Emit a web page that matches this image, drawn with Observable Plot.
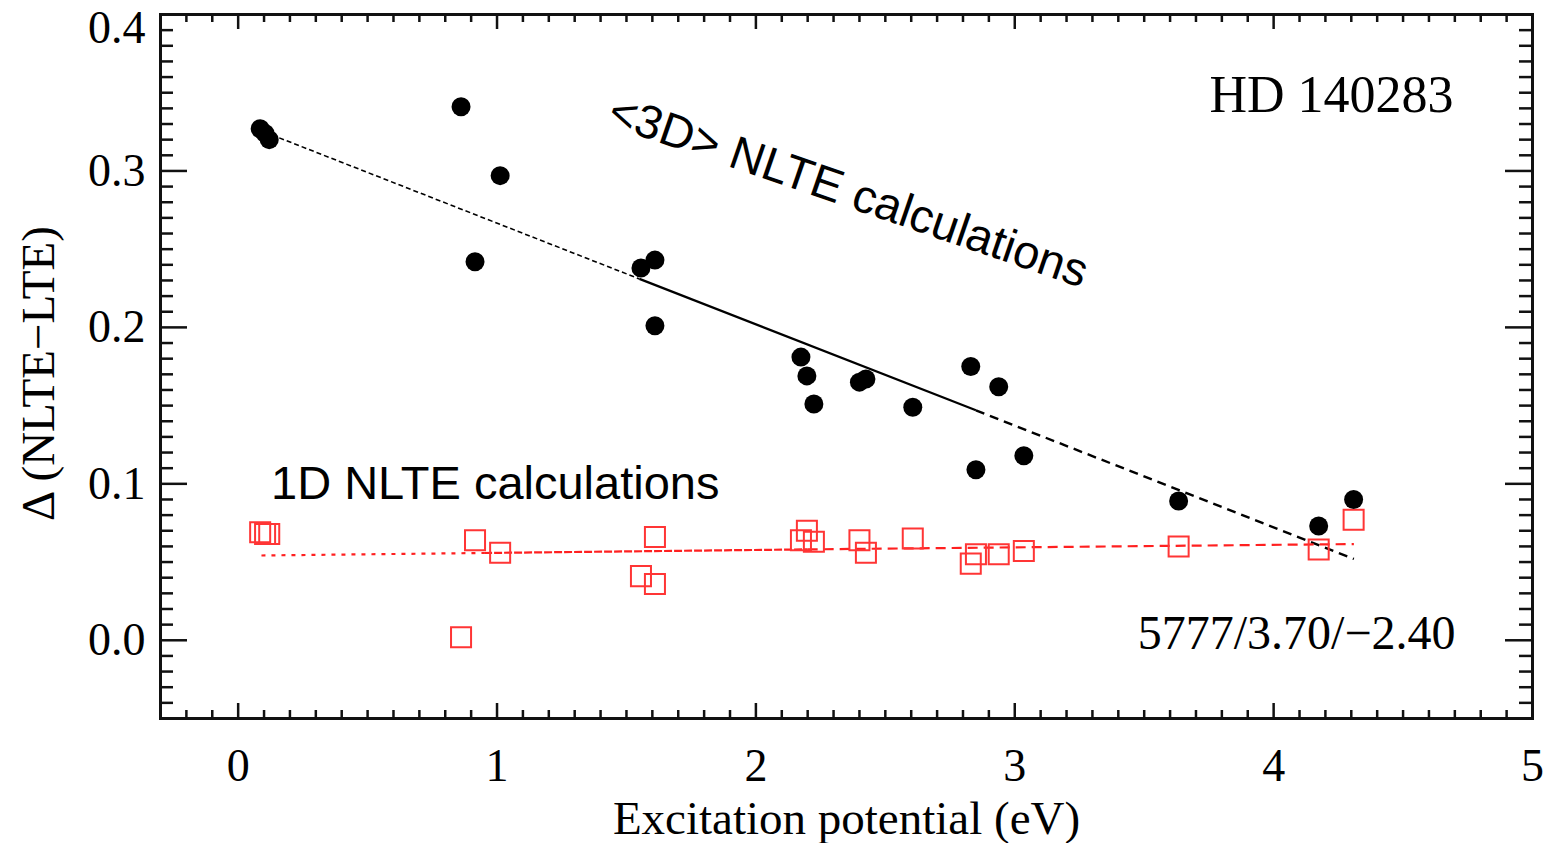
<!DOCTYPE html>
<html>
<head>
<meta charset="utf-8">
<script src="https://cdn.jsdelivr.net/npm/d3@7"></script>
<script src="https://cdn.jsdelivr.net/npm/@observablehq/plot@0.6"></script>
<style>
  html, body { margin: 0; padding: 0; background: #fff; }
</style>
</head>
<body>
<div id="chart"></div>
<script>
// Excitation potential of each line (eV)
const excitation = [0.085, 0.104, 0.12, 0.861, 1.012, 0.915, 1.556, 1.61, 1.61, 2.174, 2.197, 2.224, 2.40, 2.425, 2.606, 2.83, 2.938, 2.85, 3.035, 3.633, 4.174, 4.309];
// <3D> NLTE corrections
const delta3D = [0.327, 0.324, 0.320, 0.341, 0.297, 0.242, 0.238, 0.243, 0.201, 0.181, 0.169, 0.151, 0.165, 0.167, 0.149, 0.175, 0.162, 0.109, 0.118, 0.089, 0.073, 0.090];
// 1D NLTE corrections
const delta1D = [0.069, 0.068, 0.068, 0.002, 0.056, 0.064, 0.041, 0.036, 0.066, 0.064, 0.070, 0.063, 0.064, 0.056, 0.065, 0.049, 0.055, 0.055, 0.057, 0.060, 0.058, 0.077];

// Linear fits (segments with different dash styles), in data units
const fit3D = [
  {x1: 0.13, x2: 1.55, y1: 0.323, y2: 0.231},
  {x1: 1.55, x2: 2.85, y1: 0.231, y2: 0.147},
  {x1: 2.85, x2: 4.31, y1: 0.147, y2: 0.052}
];
const fit1D = [
  {x1: 0.09, x2: 0.95, y1: 0.0542, y2: 0.0558},
  {x1: 0.95, x2: 2.20, y1: 0.0558, y2: 0.0581},
  {x1: 2.20, x2: 4.31, y1: 0.0581, y2: 0.0615}
];
const dash3D = ["5,3", null, "9,6"];
const width3D = [1.6, 2.2, 2.4];
const dash1D = ["4,6", "8,2", "10,6"];

// Axis ticks and labels
const xMajor = [0, 1, 2, 3, 4, 5];
const yMajor = [0.0, 0.1, 0.2, 0.3, 0.4];
const xMinor = d3.range(-2, 50).map(i => i / 10).filter(v => Math.abs(v - Math.round(v)) > 1e-9);
const yMinor = d3.range(-4, 40).map(i => i / 100).filter(v => Math.abs(v * 10 - Math.round(v * 10)) > 1e-9);

// Annotations
const annotations = [
  {x: 1.419, y: 0.330, text: "<3D> NLTE calculations", rotate: 19},
  {x: 0.127, y: 0.0906, text: "1D NLTE calculations", rotate: 0}
];

const serif = "'Liberation Serif', 'Times New Roman', serif";
const sans = "'Liberation Sans', Arial, sans-serif";

const W = 1550, H = 843;
const mL = 160, mR = 18, mT = 14, mB = 125;
const innerW = W - mL - mR, innerH = H - mT - mB;

const points = excitation.map((x, i) => ({x, d3: delta3D[i], d1: delta1D[i]}));

const fitMarks = [];
fit3D.forEach((seg, i) => {
  fitMarks.push(Plot.link([seg], {x1: "x1", x2: "x2", y1: "y1", y2: "y2", stroke: "#000", strokeWidth: width3D[i], strokeDasharray: dash3D[i] || undefined}));
});
fit1D.forEach((seg, i) => {
  fitMarks.push(Plot.link([seg], {x1: "x1", x2: "x2", y1: "y1", y2: "y2", stroke: "#ff2020", strokeWidth: 2.2, strokeDasharray: dash1D[i]}));
});

const chart = Plot.plot({
  width: W,
  height: H,
  marginLeft: mL,
  marginRight: mR,
  marginTop: mT,
  marginBottom: mB,
  x: {domain: [-0.3, 5.0], axis: null},
  y: {domain: [-0.05, 0.4], axis: null},
  style: {fontFamily: serif, fontSize: "46px", background: "#fff", color: "#000"},
  marks: [
    // ticks: bottom
    Plot.tickX(xMinor, {x: d => d, insetTop: innerH - 8, stroke: "#111", strokeWidth: 2.5}),
    Plot.tickX(xMajor, {x: d => d, insetTop: innerH - 15, stroke: "#111", strokeWidth: 2.5}),
    // ticks: top
    Plot.tickX(xMinor, {x: d => d, insetBottom: innerH - 8, stroke: "#111", strokeWidth: 2.5}),
    Plot.tickX(xMajor, {x: d => d, insetBottom: innerH - 15, stroke: "#111", strokeWidth: 2.5}),
    // ticks: left
    Plot.tickY(yMinor, {y: d => d, insetRight: innerW - 13, stroke: "#111", strokeWidth: 2.5}),
    Plot.tickY(yMajor, {y: d => d, insetRight: innerW - 27, stroke: "#111", strokeWidth: 2.5}),
    // ticks: right
    Plot.tickY(yMinor, {y: d => d, insetLeft: innerW - 13, stroke: "#111", strokeWidth: 2.5}),
    Plot.tickY(yMajor, {y: d => d, insetLeft: innerW - 27, stroke: "#111", strokeWidth: 2.5}),
    Plot.frame({stroke: "#111", strokeWidth: 3}),

    // tick labels
    Plot.text(xMajor, {x: d => d, frameAnchor: "bottom", dy: 62, lineAnchor: "bottom", text: d => String(d), fontSize: 46, fontFamily: serif, fill: "#000"}),
    Plot.text(yMajor.filter(d => d < 0.35), {y: d => d, frameAnchor: "left", dx: -15, textAnchor: "end", lineAnchor: "middle", text: d => d.toFixed(1), fontSize: 46, fontFamily: serif, fill: "#000"}),
    Plot.text(yMajor.filter(d => d > 0.35), {y: d => d, frameAnchor: "left", dx: -15, dy: 14, textAnchor: "end", lineAnchor: "middle", text: d => d.toFixed(1), fontSize: 46, fontFamily: serif, fill: "#000"}),

    // axis titles
    Plot.text(["Excitation potential (eV)"], {frameAnchor: "bottom", dy: 115, lineAnchor: "bottom", text: d => d, fontSize: 47, fontFamily: serif, fill: "#000"}),
    Plot.text(["\u0394 (NLTE\u2212LTE)"], {frameAnchor: "left", dx: -122, dy: 7, rotate: -90, textAnchor: "middle", lineAnchor: "middle", text: d => d, fontSize: 47, fontFamily: serif, fill: "#000"}),

    // fit lines
    ...fitMarks,

    // data points
    Plot.dot(points, {x: "x", y: "d1", symbol: "square", r: 11.3, stroke: "#ff3535", strokeWidth: 2, fill: "none"}),
    Plot.dot(points, {x: "x", y: "d3", r: 9.5, fill: "#000", stroke: "none"}),

    // annotations
    Plot.text(annotations, {x: "x", y: "y", text: "text", rotate: "rotate", textAnchor: "start", lineAnchor: "bottom", fontSize: 47, fontFamily: sans, fill: "#000"}),
    Plot.text(["HD 140283"], {frameAnchor: "top-right", dx: -79, dy: 97, textAnchor: "end", lineAnchor: "bottom", text: d => d, fontSize: 52, fontFamily: serif, fill: "#000"}),
    Plot.text(["5777/3.70/\u22122.40"], {frameAnchor: "bottom-right", dx: -77, dy: -70, textAnchor: "end", lineAnchor: "bottom", text: d => d, fontSize: 48, fontFamily: serif, fill: "#000"})
  ]
});

document.getElementById("chart").appendChild(chart);
</script>
</body>
</html>
